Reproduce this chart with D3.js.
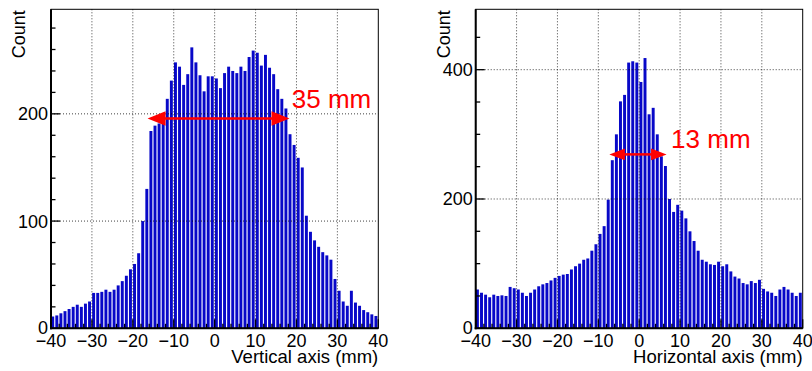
<!DOCTYPE html>
<html><head><meta charset="utf-8">
<script src="https://cdn.jsdelivr.net/npm/d3@7/dist/d3.min.js"></script>
<style>
html,body{margin:0;padding:0;background:#fff;}
svg text{font-family:"Liberation Sans",Arial,Helvetica,sans-serif;}
</style></head>
<body><svg id="c" width="812" height="371"></svg>
<script>
// ---- data ----
const binEdges = d3.range(-40, 40); // lower edge of each 1 mm bin
const verticalCounts = [11,12,14,16,18,20,22,20,23,25,
  33,33,34,36,34,36,40,44,49,55,
  60,70,100,130,184,189,191,195,214,231,
  248,244,227,237,262,248,236,221,235,235,
  233,224,238,244,240,238,244,240,253,259,
  257,245,255,243,237,223,214,205,181,171,
  159,150,105,90,82,76,71,68,64,46,
  35,25,21,35,24,21,17,15,13,11.5];
const horizontalCounts = [60,55,52,48,52,50,51,50,64,62,
  60,55,50,55,60,65,68,70,74,78,
  81,83,84,91,96,100,106,108,120,130,
  146,158,199,260,300,351,361,411,413,411,
  381,418,331,341,300,266,251,200,180,191,
  182,170,150,135,120,106,103,99,98,103,
  96,99,88,80,77,70,68,73,70,75,
  61,57,55,50,60,64,60,55,50,55];
const xTickLabels = [-40,-30,-20,-10,0,10,20,30,40];
const leftYTicks = [0,100,200];
const rightYTicks = [0,200,400];
const xTitles = ["Vertical axis (mm)", "Horizontal axis (mm)"];
const widthLabels = ["35 mm", "13 mm"];
const arrowX1 = [-16.4, -7.3];
const arrowX2 = [18.3, 6.7];
const arrowY = [195.6, 269];
const labelX = [18.85, 7.8];
const labelY = [205, 278.3];

const panels = [
  {counts: verticalCounts, yMax: 297.5, yTicks: leftYTicks, minorStep: 20, x0: 51, x1: 378.3,
   title: xTitles[0], label: widthLabels[0], a1: arrowX1[0], a2: arrowX2[0], ay: arrowY[0], lx: labelX[0], ly: labelY[0], headL: 18, headW: 7.2},
  {counts: horizontalCounts, yMax: 493.4, yTicks: rightYTicks, minorStep: 50, x0: 475.7, x1: 802.7,
   title: xTitles[1], label: widthLabels[1], a1: arrowX1[1], a2: arrowX2[1], ay: arrowY[1], lx: labelX[1], ly: labelY[1], headL: 15.5, headW: 5.8}
];
const plotTop = 9.3, plotBottom = 328.3;
const svg = d3.select("#c");
const fmt = v => v < 0 ? "\u2212" + Math.abs(v) : String(v);

panels.forEach(p => {
  const x = d3.scaleLinear().domain([-40, 40]).range([p.x0, p.x1]);
  const y = d3.scaleLinear().domain([0, p.yMax]).range([plotBottom, plotTop]);
  const g = svg.append("g");
  const bw = x(1) - x(0);

  // bars
  g.selectAll("rect.bar").data(binEdges).join("rect")
    .attr("class", "bar")
    .attr("x", d => x(d) + bw * 0.06)
    .attr("width", bw * 0.72)
    .attr("y", (d, i) => y(p.counts[i]))
    .attr("height", (d, i) => plotBottom - y(p.counts[i]))
    .attr("fill", "#0808c8");

  // grid
  const gx = xTickLabels.filter(v => v > -40 && v < 40);
  g.selectAll("line.gx").data(gx).join("line")
    .attr("x1", d => x(d)).attr("x2", d => x(d))
    .attr("y1", plotTop).attr("y2", plotBottom)
    .attr("stroke", "#000").attr("stroke-opacity", 0.75).attr("stroke-width", 1)
    .attr("stroke-dasharray", "1,2");
  g.selectAll("line.gy").data(p.yTicks.filter(v => v > 0)).join("line")
    .attr("x1", p.x0).attr("x2", p.x1)
    .attr("y1", d => y(d)).attr("y2", d => y(d))
    .attr("stroke", "#000").attr("stroke-opacity", 0.75).attr("stroke-width", 1)
    .attr("stroke-dasharray", "1,2");

  // x ticks (inward)
  const xMinor = d3.range(-40, 41, 2);
  g.selectAll("line.xt").data(xMinor).join("line")
    .attr("x1", d => x(d)).attr("x2", d => x(d))
    .attr("y1", plotBottom).attr("y2", d => plotBottom - (d % 10 === 0 ? 9 : 4.5))
    .attr("stroke", "#000").attr("stroke-width", 1.3);
  // y ticks (inward)
  const yMinor = d3.range(0, p.yMax, p.minorStep);
  g.selectAll("line.yt").data(yMinor).join("line")
    .attr("x1", p.x0).attr("x2", d => p.x0 + (p.yTicks.includes(d) ? 9 : 4.5))
    .attr("y1", d => y(d)).attr("y2", d => y(d))
    .attr("stroke", "#000").attr("stroke-width", 1.3);

  // frame
  g.append("rect").attr("x", p.x0).attr("y", plotTop).attr("width", p.x1 - p.x0).attr("height", plotBottom - plotTop)
    .attr("fill", "none").attr("stroke", "#000").attr("stroke-width", 1);
  g.append("line").attr("x1", p.x0).attr("x2", p.x0).attr("y1", plotTop).attr("y2", plotBottom + 1)
    .attr("stroke", "#000").attr("stroke-width", 2);
  g.append("line").attr("x1", p.x0 - 1).attr("x2", p.x1).attr("y1", plotBottom).attr("y2", plotBottom)
    .attr("stroke", "#000").attr("stroke-width", 2);

  // tick labels
  g.selectAll("text.xl").data(xTickLabels).join("text")
    .attr("x", d => x(d)).attr("y", 347)
    .attr("text-anchor", "middle").attr("font-size", 18).text(fmt);
  g.selectAll("text.yl").data(p.yTicks).join("text")
    .attr("x", p.x0 - 3).attr("y", d => y(d) + 6.5 - (d === 0 ? 1 : 0))
    .attr("text-anchor", "end").attr("font-size", 18).text(d => d);

  // titles
  g.append("text").attr("x", p.x1).attr("y", 362.5).attr("text-anchor", "end")
    .attr("font-size", 18.5).text(p.title);
  g.append("text").attr("transform", `translate(${p.x0 - 26},${plotTop + 1}) rotate(-90)`)
    .attr("text-anchor", "end").attr("font-size", 18).text("Count");

  // arrow annotation
  const ax1 = x(p.a1), ax2 = x(p.a2), ay = y(p.ay);
  g.append("line").attr("x1", ax1 + p.headL - 1).attr("x2", ax2 - p.headL + 1)
    .attr("y1", ay).attr("y2", ay).attr("stroke", "#ff0000").attr("stroke-width", 2.5);
  g.append("path").attr("d", `M${ax1},${ay}L${ax1 + p.headL},${ay - p.headW}L${ax1 + p.headL},${ay + p.headW}Z`).attr("fill", "#ff0000");
  g.append("path").attr("d", `M${ax2},${ay}L${ax2 - p.headL},${ay - p.headW}L${ax2 - p.headL},${ay + p.headW}Z`).attr("fill", "#ff0000");
  g.append("text").attr("x", x(p.lx)).attr("y", y(p.ly)).attr("font-size", 26)
    .attr("fill", "#ff0000").text(p.label);
});
</script></body></html>
